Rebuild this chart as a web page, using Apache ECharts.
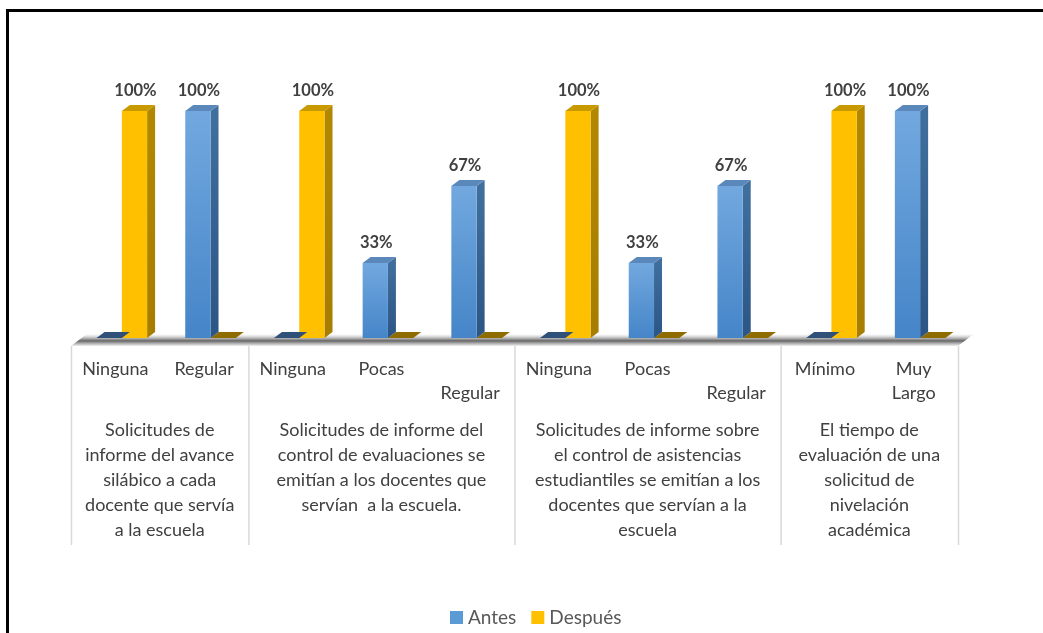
<!DOCTYPE html>
<html>
<head>
<meta charset="utf-8">
<script src="https://cdn.jsdelivr.net/npm/echarts@6/dist/echarts.min.js"></script>
<style>
  html, body { margin: 0; padding: 0; background: #fff; }
  #chart { width: 1043px; height: 633px; }
</style>
</head>
<body>
<div id="chart"></div>
<script>
// Response categories along the axis (one per bar pair)
const categories = ['Ninguna', 'Regular', 'Ninguna', 'Pocas', 'Regular',
                    'Ninguna', 'Pocas', 'Regular', 'Mínimo', 'Muy Largo'];

// Question groups: first and last category index, and the wrapped title
const groupStart = [0, 2, 5, 8];
const groupEnd   = [1, 4, 7, 9];
const groupTitles = [
  'Solicitudes de\ninforme del avance\nsilábico a cada\ndocente que servía\na la escuela',
  'Solicitudes de informe del\ncontrol de evaluaciones se\nemitían a los docentes que\nservían  a la escuela.',
  'Solicitudes de informe sobre\nel control de asistencias\nestudiantiles se emitían a los\ndocentes que servían a la\nescuela',
  'El tiempo de\nevaluación de una\nsolicitud de\nnivelación\nacadémica'
];

// Percentages per category
const antes   = [0, 100, 0, 33, 67, 0, 33, 67, 0, 100];
const despues = [100, 0, 100, 0, 0, 100, 0, 0, 100, 0];

const FONT = 'Lato, "Open Sans", sans-serif';

const palette = {
  antes: {
    front: ['#72a8df', '#4585c8'],
    side: ['#41709f', '#2b5584'],
    top: '#5b88bb',
    flat: '#2f5078'
  },
  despues: {
    front: ['#ffc000', '#ffc000'],
    side: ['#b38800', '#a67d00'],
    top: '#c99a00',
    flat: '#8f6c00'
  }
};

function makeBarRenderer(colors, first) {
  return function (params, api) {
    const idx = api.value(0);
    const v = api.value(1);
    const base = api.coord([idx, 0]);
    const top = api.coord([idx, v]);
    const catW = api.size([1, 0])[0];
    const w = catW * 0.285;
    const dx = 8, dy = 6;
    const shift = catW * 0.073;
    const x0 = base[0] + shift + (first ? -w : 0);
    const yb = base[1];
    const yt = top[1];
    const children = [];
    if (v > 0) {
      children.push({
        type: 'polygon',
        shape: { points: [[x0 + w, yt], [x0 + w + dx, yt - dy], [x0 + w + dx, yb - dy], [x0 + w, yb]] },
        style: { fill: new echarts.graphic.LinearGradient(0, 0, 0, 1, [
          { offset: 0, color: colors.side[0] }, { offset: 1, color: colors.side[1] }]) }
      });
      children.push({
        type: 'rect',
        shape: { x: x0, y: yt, width: w, height: yb - yt },
        style: { fill: new echarts.graphic.LinearGradient(0, 0, 0, 1, [
          { offset: 0, color: colors.front[0] }, { offset: 1, color: colors.front[1] }]) }
      });
      children.push({
        type: 'polygon',
        shape: { points: [[x0, yt], [x0 + dx, yt - dy], [x0 + w + dx, yt - dy], [x0 + w, yt]] },
        style: { fill: colors.top }
      });
      children.push({
        type: 'text',
        style: {
          text: Math.round(v) + '%',
          x: x0 + w / 2 + 1,
          y: yt - 20,
          align: 'center', verticalAlign: 'middle',
          textAlign: 'center', textVerticalAlign: 'middle',
          fill: '#404040',
          font: 'bold 16.5px ' + FONT
        }
      });
    } else {
      children.push({
        type: 'polygon',
        shape: { points: [[x0, yb], [x0 + dx, yb - dy], [x0 + w + dx, yb - dy], [x0 + w, yb]] },
        style: { fill: colors.flat }
      });
    }
    return { type: 'group', children: children };
  };
}

// Floor strip under the bars
function renderFloor(params, api) {
  const cs = params.coordSys;
  const yb = cs.y + cs.height;
  const x1 = cs.x, x2 = cs.x + cs.width;
  return {
    type: 'polygon',
    shape: { points: [[x1, yb + 8], [x1 + 17, yb - 5], [x2 + 17, yb - 5], [x2, yb + 8]] },
    style: { fill: new echarts.graphic.LinearGradient(0, 0, 0, 1, [
      { offset: 0, color: 'rgba(255,255,255,0)' },
      { offset: 0.3, color: 'rgba(190,190,190,0.7)' },
      { offset: 0.6, color: 'rgba(95,95,95,0.95)' },
      { offset: 0.8, color: 'rgba(175,175,175,1)' },
      { offset: 1, color: 'rgba(240,240,240,1)' }]) }
  };
}

// Group separators and group titles below the category labels
function renderGroup(params, api) {
  const s = api.value(0), e = api.value(1);
  const cs = params.coordSys;
  const yb = cs.y + cs.height;
  const left = api.coord([s, 0])[0] - api.size([1, 0])[0] / 2;
  const right = api.coord([e, 0])[0] + api.size([1, 0])[0] / 2;
  const children = [
    { type: 'line', shape: { x1: left + 0.5, y1: yb + 8, x2: left + 0.5, y2: yb + 207 },
      style: { stroke: '#d9d9d9', lineWidth: 1.5 } },
    { type: 'text', style: {
        text: groupTitles[params.dataIndex],
        x: (left + right) / 2, y: yb + 80,
        align: 'center', verticalAlign: 'top',
        textAlign: 'center', textVerticalAlign: 'top',
        lineHeight: 25,
        fill: '#404040',
        font: '18px ' + FONT
      } }
  ];
  if (params.dataIndex === groupStart.length - 1) {
    children.push({ type: 'line', shape: { x1: right + 0.5, y1: yb + 8, x2: right + 0.5, y2: yb + 207 },
      style: { stroke: '#d9d9d9', lineWidth: 1.5 } });
  }
  return { type: 'group', children: children };
}

// Last category of a three-item group drops to the second label line
function tickLabel(value, index) {
  for (let g = 0; g < groupStart.length; g++) {
    if (index === groupEnd[g] && groupEnd[g] - groupStart[g] >= 2) return '\n' + value;
  }
  return value.replace(' ', '\n');
}

const chart = echarts.init(document.getElementById('chart'), null, { renderer: 'canvas' });
chart.setOption({
  animation: false,
  backgroundColor: '#ffffff',
  graphic: [{
    type: 'rect', z: 100,
    shape: { x: 7.5, y: 10.5, width: 1100, height: 700 },
    style: { fill: 'none', stroke: '#000000', lineWidth: 3 }
  }],
  grid: { left: 71, right: 85, top: 111, bottom: 295 },
  xAxis: {
    type: 'category',
    data: categories,
    axisLine: { show: false },
    axisTick: { show: false },
    axisLabel: {
      interval: 0,
      margin: 19,
      fontSize: 18,
      fontFamily: FONT,
      color: '#404040',
      lineHeight: 24,
      formatter: tickLabel
    }
  },
  yAxis: {
    type: 'value', min: 0, max: 100,
    show: false
  },
  legend: {
    left: 445, top: 603,
    icon: 'rect',
    itemWidth: 13, itemHeight: 13,
    itemGap: 15,
    itemStyle: { borderWidth: 0 },
    textStyle: { fontSize: 19, fontFamily: FONT, color: '#595959' },
    data: ['Antes', 'Después']
  },
  series: [
    {
      type: 'custom', name: 'floor', z: 1,
      data: [[0, 0]],
      encode: { x: 0, y: 1 },
      renderItem: renderFloor,
      silent: true
    },
    {
      type: 'custom', name: 'groups', z: 1,
      data: groupStart.map((s, i) => [s, groupEnd[i]]),
      encode: { x: [0, 1] },
      renderItem: renderGroup,
      silent: true
    },
    {
      type: 'custom', name: 'Antes', z: 3,
      itemStyle: { color: '#5b9bd5' },
      data: antes.map((v, i) => [i, v]),
      encode: { x: 0, y: 1 },
      renderItem: makeBarRenderer(palette.antes, true)
    },
    {
      type: 'custom', name: 'Después', z: 2,
      itemStyle: { color: '#ffc000' },
      data: despues.map((v, i) => [i, v]),
      encode: { x: 0, y: 1 },
      renderItem: makeBarRenderer(palette.despues, false)
    }
  ]
});
</script>
</body>
</html>
